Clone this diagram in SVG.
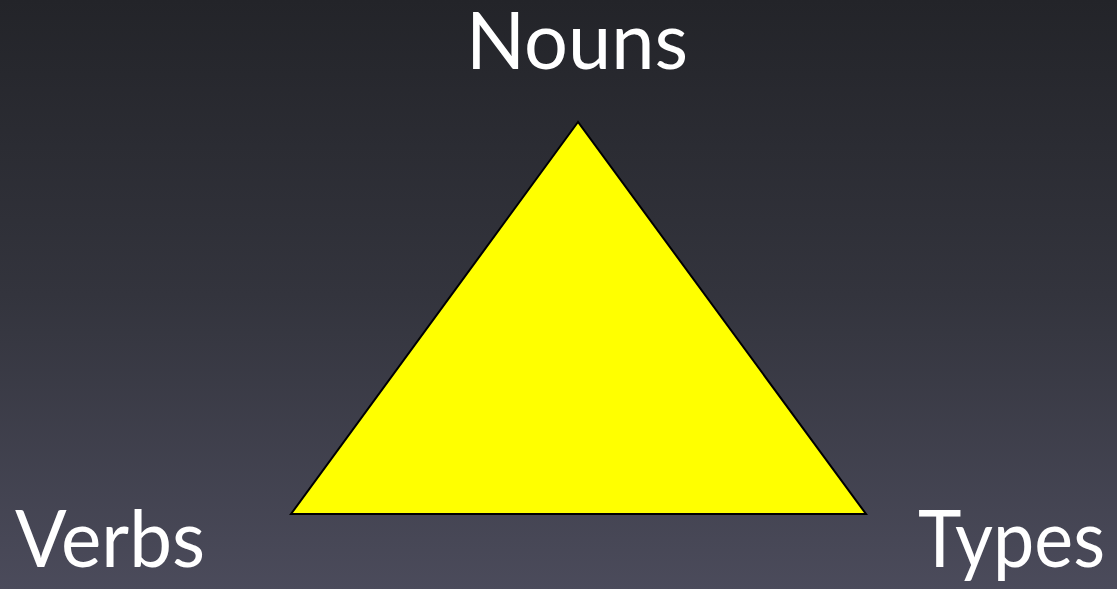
<svg xmlns="http://www.w3.org/2000/svg" width="1117" height="589" viewBox="0 0 1117 589">
  <defs>
    <linearGradient id="bg" x1="0" y1="0" x2="0" y2="1">
      <stop offset="0" stop-color="#232429"/>
      <stop offset="0.5" stop-color="#33343d"/>
      <stop offset="1" stop-color="#4b4b5b"/>
    </linearGradient>
  </defs>
  <style>
    .lbl { font-family: "Lato", "Open Sans", "Liberation Sans", sans-serif; font-size: 80px; fill: #ffffff; }
  </style>
  <rect x="0" y="0" width="1117" height="589" fill="url(#bg)"/>
  <g id="triangle">
    <polygon points="578,122 291,514 866,514" fill="#ffff00" stroke="#000000" stroke-width="2" stroke-linejoin="miter"/>
  </g>
  <g id="nouns">
    <text class="lbl" x="577" y="69" text-anchor="middle" textLength="222" lengthAdjust="spacingAndGlyphs">Nouns</text>
  </g>
  <g id="verbs">
    <text class="lbl" x="15" y="567" textLength="190" lengthAdjust="spacingAndGlyphs">Verbs</text>
  </g>
  <g id="types">
    <text class="lbl" x="918" y="567" textLength="187" lengthAdjust="spacingAndGlyphs">Types</text>
  </g>
  <g id="connectors"></g>
</svg>
